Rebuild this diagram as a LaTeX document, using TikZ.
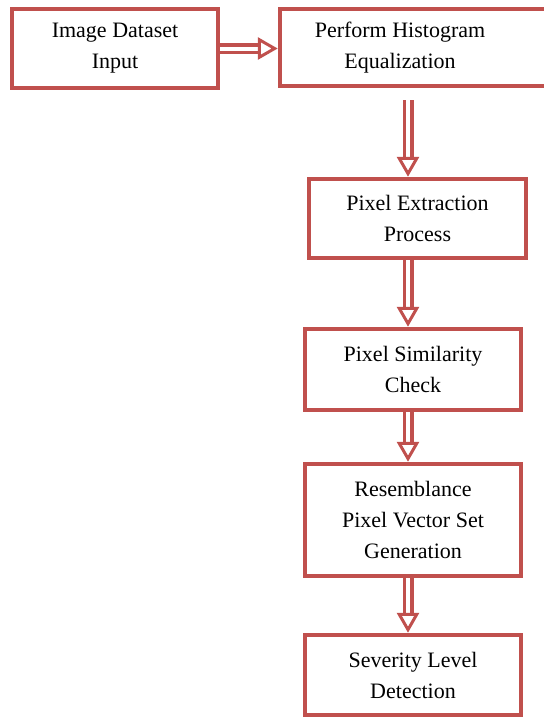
\documentclass[tikz,border=0pt]{standalone}
\usepackage{fontspec}
\setmainfont{Liberation Serif}
\usetikzlibrary{arrows.meta}
\definecolor{boxred}{HTML}{C0504D}
\begin{document}
\begin{tikzpicture}[x=1pt,y=-1pt,
  box/.style={draw=boxred,line width=4.5pt,fill=white,align=center,
    font=\fontsize{22}{31}\selectfont,inner sep=0pt},
  flow/.style={draw=boxred,line width=3.5pt,double=white,double distance=4pt,
    -{Triangle[open,length=20pt,width=22pt,line width=3pt]}}]
\useasboundingbox (0,0) rectangle (544,721);
\coordinate (axis) at (408,0);

\node[box,minimum width=206,minimum height=79] (input) at (115,48.5) {Image Dataset\\Input};
\node[box,minimum width=266,minimum height=77] (hist) at (413,47.5) {};
\node[align=center,font=\fontsize{22}{31}\selectfont,inner sep=0pt] (histtxt) at (400,47.5) {Perform Histogram\\Equalization};
\node[box,minimum width=217,minimum height=79] (extract) at (417.5,218.5) {Pixel Extraction\\Process};
\node[box,minimum width=216,minimum height=81] (similar) at (413,369.5) {Pixel Similarity\\Check};
\node[box,minimum width=216,minimum height=112] (vector) at (413,520) {Resemblance\\Pixel Vector Set\\Generation};
\node[box,minimum width=216,minimum height=80] (severity) at (413,675) {Severity Level\\Detection};

\draw[flow] (input.east) -- (hist.west |- input.east);
\draw[flow,shorten <=12pt] (hist.south -| axis) -- (extract.north -| axis);
\draw[flow] (extract.south -| axis) -- (similar.north -| axis);
\draw[flow] (similar.south -| axis) -- (vector.north -| axis);
\draw[flow] (vector.south -| axis) -- (severity.north -| axis);
\end{tikzpicture}
\end{document}
